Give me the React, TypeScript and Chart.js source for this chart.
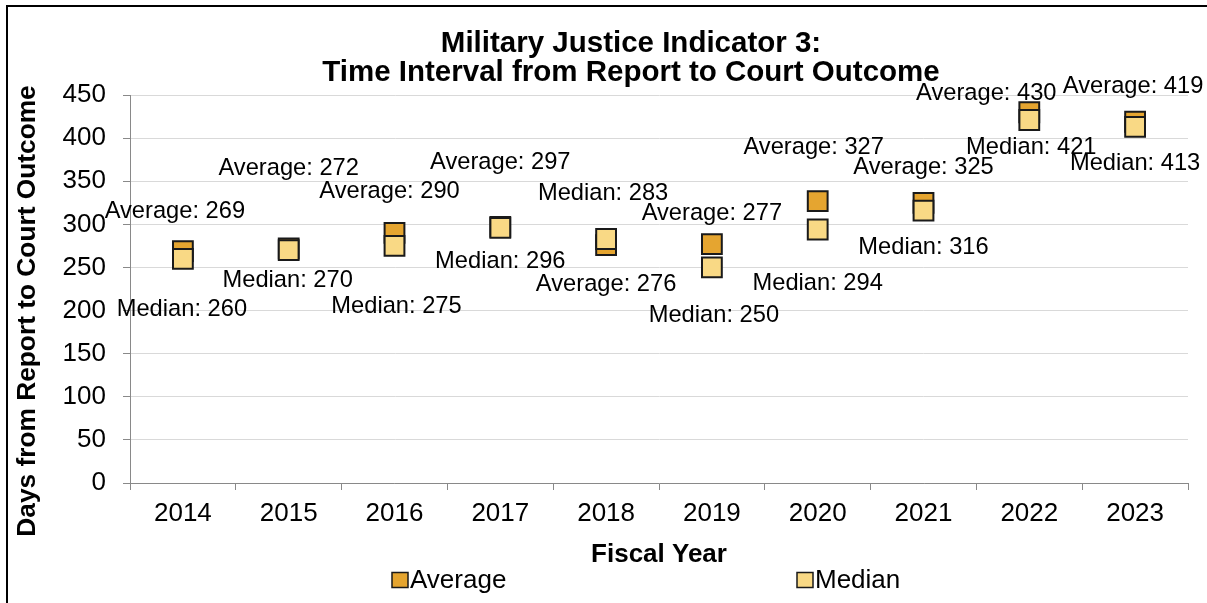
import React, { useEffect, useRef } from "react";
import { Chart, registerables } from "chart.js";

Chart.register(...registerables);

const years = ["2014", "2015", "2016", "2017", "2018", "2019", "2020", "2021", "2022", "2023"];
const averageDays = [269, 272, 290, 297, 276, 277, 327, 325, 430, 419];
const medianDays = [260, 270, 275, 296, 283, 250, 294, 316, 421, 413];
const yMin = 0;
const yMax = 450;
const yStep = 50;

const titleLines = ["Military Justice Indicator 3:", "Time Interval from Report to Court Outcome"];
const yTitle = "Days from Report to Court Outcome";
const xTitle = "Fiscal Year";

// label placement offsets (pixels from the marker centre), as placed in the original
const averageLabelOffsets = [[-8, -40], [0, -80], [-5, -41], [0, -64], [0, 39], [0, -31], [-4, -54], [0, -35], [-43, -19], [-2, -35]];
const medianLabelOffsets = [[-1, 51], [-1, 30], [2, 61], [0, 34], [-3, -46], [2, 48], [0, 54], [0, 37], [2, 27], [0, 37]];

const FONT = "'Liberation Sans', Arial, sans-serif";
const AVG_COLOR = "#E5A530";
const MED_COLOR = "#F9D985";
const EDGE = "#1a1a1a";

const decorPlugin = {
  id: "decor",
  beforeDraw(chart: any) {
    const ctx = chart.ctx;
    ctx.save();
    ctx.strokeStyle = "#000";
    ctx.lineWidth = 2;
    ctx.beginPath();
    ctx.moveTo(7, chart.height + 5);
    ctx.lineTo(7, 6);
    ctx.lineTo(chart.width + 5, 6);
    ctx.stroke();
    // chart title
    ctx.font = `bold 29.5px ${FONT}`;
    ctx.fillStyle = "#000";
    ctx.textAlign = "center";
    ctx.textBaseline = "middle";
    titleLines.forEach((line, i) => ctx.fillText(line, 631, 43.5 + i * 29));
    ctx.restore();
  },
  afterDatasetsDraw(chart: any) {
    const ctx = chart.ctx;
    ctx.save();
    ctx.font = `23.7px ${FONT}`;
    ctx.fillStyle = "#000";
    ctx.textAlign = "center";
    ctx.textBaseline = "middle";
    const sets = [
      { idx: 0, name: "Average", values: averageDays, offs: averageLabelOffsets },
      { idx: 1, name: "Median", values: medianDays, offs: medianLabelOffsets },
    ];
    sets.forEach((s) => {
      const meta = chart.getDatasetMeta(s.idx);
      meta.data.forEach((pt: any, i: number) => {
        const [dx, dy] = s.offs[i];
        ctx.fillText(`${s.name}: ${s.values[i]}`, pt.x + dx, pt.y + dy);
      });
    });
    ctx.restore();
  },
  afterDraw(chart: any) {
    const ctx = chart.ctx;
    const area = chart.chartArea;
    ctx.save();
    // y axis title
    ctx.font = `bold 26.3px ${FONT}`;
    ctx.fillStyle = "#000";
    ctx.textAlign = "center";
    ctx.textBaseline = "middle";
    ctx.translate(28, area.top + 216);
    ctx.rotate(-Math.PI / 2);
    ctx.fillText(yTitle, 0, 0);
    ctx.restore();

    // legend
    ctx.save();
    ctx.font = `26px ${FONT}`;
    ctx.textBaseline = "middle";
    ctx.textAlign = "left";
    const items = [
      { label: chart.data.datasets[0].label, color: AVG_COLOR, x: 392 },
      { label: chart.data.datasets[1].label, color: MED_COLOR, x: 797 },
    ];
    const cy = 580;
    items.forEach((it) => {
      ctx.fillStyle = it.color;
      ctx.fillRect(it.x, cy - 7.5, 16, 15);
      ctx.strokeStyle = EDGE;
      ctx.lineWidth = 1.5;
      ctx.strokeRect(it.x, cy - 7.5, 16, 15);
      ctx.fillStyle = "#000";
      ctx.fillText(it.label, it.x + 18, cy + 1);
    });
    ctx.restore();
  },
};

export default function App() {
  const ref = useRef<HTMLCanvasElement | null>(null);
  useEffect(() => {
    if (!ref.current) return;
    const chart = new Chart(ref.current, {
      type: "line",
      data: {
        labels: years,
        datasets: [
          {
            label: "Average",
            data: averageDays,
            showLine: false,
            pointStyle: "rect",
            pointRadius: 14,
            pointHoverRadius: 14,
            pointBackgroundColor: AVG_COLOR,
            pointBorderColor: EDGE,
            pointBorderWidth: 2,
            backgroundColor: AVG_COLOR,
            borderColor: EDGE,
            order: 2,
          },
          {
            label: "Median",
            data: medianDays,
            showLine: false,
            pointStyle: "rect",
            pointRadius: 14,
            pointHoverRadius: 14,
            pointBackgroundColor: MED_COLOR,
            pointBorderColor: EDGE,
            pointBorderWidth: 2,
            backgroundColor: MED_COLOR,
            borderColor: EDGE,
            order: 1,
          },
        ],
      },
      options: {
        responsive: false,
        animation: false,
        events: [],
        layout: { padding: { left: 20, right: 19, top: 95, bottom: 33 } },
        plugins: {
          legend: { display: false },
          tooltip: { enabled: false },
          title: { display: false },
        },
        scales: {
          x: {
            type: "category",
            offset: true,
            afterFit: (scale: any) => {
              scale.height = 87;
            },
            grid: {
              display: true,
              offset: true,
              drawOnChartArea: false,
              drawTicks: true,
              tickLength: 7,
              tickColor: "#898989",
              color: "#898989",
            },
            border: { display: true, color: "#898989", width: 1 },
            ticks: {
              color: "#000",
              font: { family: FONT, size: 26 },
              padding: 8,
              maxRotation: 0,
              autoSkip: false,
            },
            title: {
              display: true,
              text: xTitle,
              color: "#000",
              font: { family: FONT, size: 26, weight: "bold", lineHeight: 1.2 },
              padding: { top: 0, bottom: 0 },
            },
          },
          y: {
            min: yMin,
            max: yMax,
            afterFit: (scale: any) => {
              scale.width = 110;
            },
            grid: {
              color: "#D9D9D9",
              lineWidth: 1,
              drawTicks: true,
              tickLength: 7,
              tickColor: "#898989",
            },
            border: { display: true, color: "#898989", width: 1 },
            ticks: {
              stepSize: yStep,
              color: "#000",
              font: { family: FONT, size: 26 },
              padding: 17,
            },
          },
        },
      },
      plugins: [decorPlugin],
    });
    return () => chart.destroy();
  }, []);

  return (
    <div style={{ position: "absolute", left: 0, top: 0, width: 1207, height: 603, background: "#fff" }}>
      <canvas ref={ref} width={1207} height={603} style={{ display: "block", width: 1207, height: 603 }} />
    </div>
  );
}
